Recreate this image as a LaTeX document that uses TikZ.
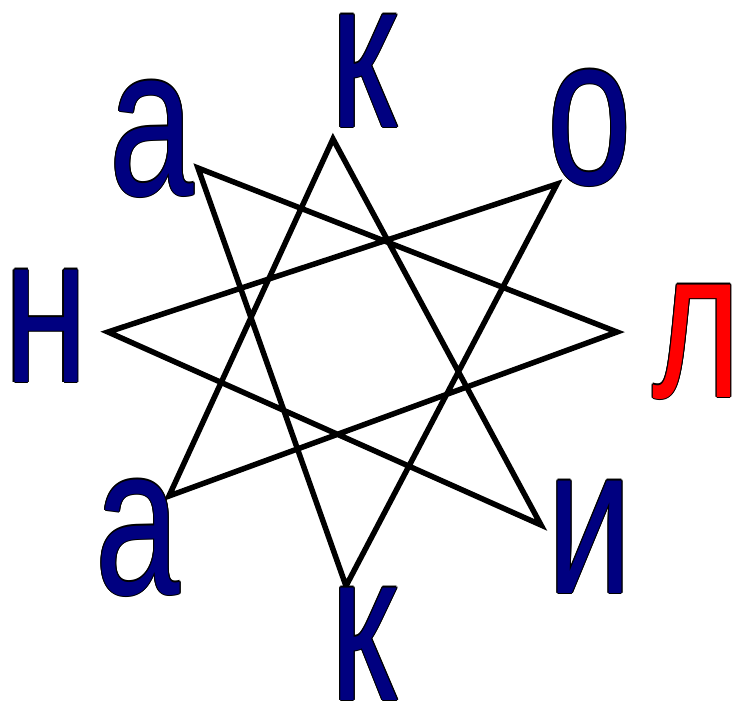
\documentclass[tikz,border=0pt]{standalone}
\usepackage{fontspec}
\newfontfamily\lf{Liberation Sans}
\definecolor{navy}{RGB}{0,0,128}
\definecolor{redl}{RGB}{255,0,0}
\newcommand\ltxt[1]{\scalebox{1}[1.4]{\lf\fontsize{152}{152}\selectfont #1}}
\newcommand\myletter[4]{%
  \foreach \dx/\dy in {1.1/0,-1.1/0,0/1.1,0/-1.1,0.8/0.8,0.8/-0.8,-0.8/0.8,-0.8/-0.8}{%
    \node[lt,text=black] at ([shift={(\dx,\dy)}]#2) {\ltxt{#4}};}
  \node[lt,text=#3] (#1) at (#2) {\ltxt{#4}};}
\begin{document}
\begin{tikzpicture}[x=1pt,y=-1pt,
  lt/.style={inner sep=0pt,outer sep=0pt,anchor=base},
  starline/.style={line width=5.5pt,draw=black,line join=miter}]
\useasboundingbox (0,0) rectangle (734,702);
% star vertices
\coordinate (p0) at (333,139);
\coordinate (p1) at (557,184);
\coordinate (p2) at (617,332);
\coordinate (p3) at (541,525);
\coordinate (p4) at (346,586);
\coordinate (p5) at (169,496);
\coordinate (p6) at (108,332);
\coordinate (p7) at (198,168);
\draw[starline] (p0) -- (p3) -- (p6) -- (p1) -- (p4) -- (p7) -- (p2) -- (p5) -- cycle;
% letters
\coordinate (c1) at (364,127);
\coordinate (c2) at (590,184);
\coordinate (c3) at (697,397);
\coordinate (c4) at (590,593);
\coordinate (c5) at (364,700);
\coordinate (c6) at (138,594);
\coordinate (c7) at (46,382);
\coordinate (c8) at (152,195);
\myletter{k1}{c1}{navy}{к}
\myletter{o}{c2}{navy}{о}
\myletter{l}{c3}{redl}{л}
\myletter{i}{c4}{navy}{и}
\myletter{k2}{c5}{navy}{к}
\myletter{a2}{c6}{navy}{а}
\myletter{n}{c7}{navy}{н}
\myletter{a1}{c8}{navy}{а}
\end{tikzpicture}
\end{document}
